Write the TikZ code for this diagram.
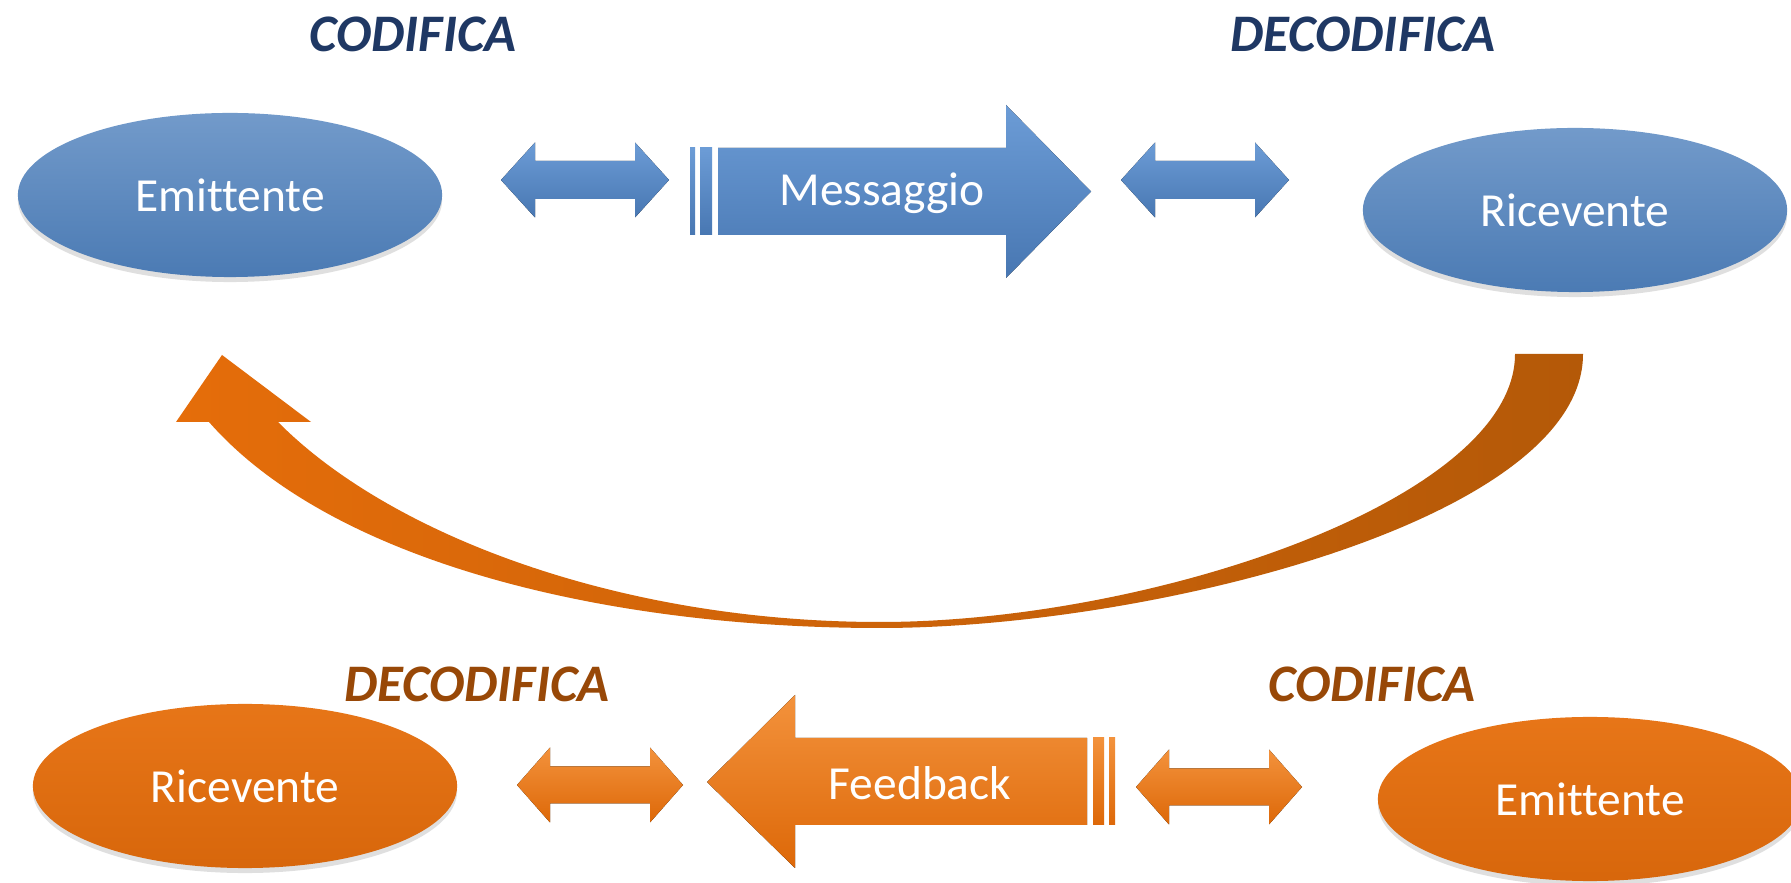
\documentclass[tikz,border=0pt]{standalone}
\usepackage{fontspec}
\setmainfont{Carlito}[Ligatures=NoCommon]
\usepackage{xcolor}
\usetikzlibrary{shapes.geometric,shadows}
\definecolor{bluetop}{HTML}{6C9CD6}
\definecolor{bluebot}{HTML}{4877B2}
\definecolor{blueell}{HTML}{4F81BD}
\definecolor{titleblue}{HTML}{1F3864}
\definecolor{orngtop}{HTML}{F3923C}
\definecolor{orngbot}{HTML}{DD6808}
\definecolor{orngell}{HTML}{E36C0C}
\definecolor{titlebrown}{HTML}{984807}
\definecolor{curveleft}{HTML}{E56D0A}
\definecolor{curveright}{HTML}{B45908}

\tikzset{
  bluefill/.style={top color=bluetop, bottom color=bluebot},
  orngfill/.style={top color=orngtop, bottom color=orngbot},
  oval/.style={ellipse, inner sep=0pt, minimum width=4.24cm, minimum height=1.64cm,
    text=white, font=\fontsize{13.5}{16}\selectfont,
    drop shadow={opacity=.25, shadow xshift=0pt, shadow yshift=-.05cm}},
  blueoval/.style={oval, top color=blueell!80!white, middle color=blueell, bottom color=blueell!95!black},
  orngoval/.style={oval, top color=orngell!75!orngtop, middle color=orngell, bottom color=orngell!95!black},
  lbl/.style={text=white, font=\fontsize{13.5}{16}\selectfont},
  title/.style={font=\fontsize{15}{18}\selectfont\bfseries\itshape}
}

\begin{document}
\begin{tikzpicture}[x=0.01cm, y=-0.01cm]
  \useasboundingbox (0,0) rectangle (1791,883);
  \fill[white] (0,0) rectangle (1791,883);

  % titles
  \node[title, text=titleblue] (codTop) at (413,34) {CODIFICA};
  \node[title, text=titleblue] (decTop) at (1363,34) {DECODIFICA};
  \node[title, text=titlebrown] (decBot) at (477,684) {DECODIFICA};
  \node[title, text=titlebrown] (codBot) at (1372,684) {CODIFICA};

  % top row
  \node[blueoval] (emitTop) at (230,195) {Emittente};
  \node[blueoval] (riceTop) at (1575,210) {Ricevente};
  \fill[bluefill, shift={(585,180)}] (-84,0) -- (-50,-37.5) -- (-50,-19) -- (50,-19) -- (50,-37.5)
    -- (84,0) -- (50,37.5) -- (50,19) -- (-50,19) -- (-50,37.5) -- cycle;
  \fill[bluefill, shift={(1205,180)}] (-84,0) -- (-50,-37.5) -- (-50,-19) -- (50,-19) -- (50,-37.5)
    -- (84,0) -- (50,37.5) -- (50,19) -- (-50,19) -- (-50,37.5) -- cycle;
  \fill[bluefill] (690,148) rectangle (695,235);
  \fill[bluefill] (700,148) rectangle (712,235);
  \fill[bluefill] (718,148) -- (1006,148) -- (1006,105) -- (1091,191.5) -- (1006,278)
    -- (1006,235) -- (718,235) -- cycle;
  \node[lbl] (msg) at (882,193) {Messaggio};

  % feedback curve
  \path[left color=curveleft, right color=curveright]
    (1583,354) .. controls (1583,520) and (1150,628) .. (880,628)
    .. controls (600,628) and (330,560) .. (209,422)
    -- (176,422) -- (222,355) -- (311,422) -- (278,422)
    .. controls (390,535) and (620,622) .. (880,622)
    .. controls (1150,622) and (1515,500) .. (1515,354) -- cycle;

  % bottom row
  \node[orngoval] (riceBot) at (245,786) {Ricevente};
  \node[orngoval] (emitBot) at (1590,799) {Emittente};
  \fill[orngfill, shift={(600,785)}] (-83,0) -- (-50,-37.5) -- (-50,-18.5) -- (50,-18.5) -- (50,-37.5)
    -- (83,0) -- (50,37.5) -- (50,18.5) -- (-50,18.5) -- (-50,37.5) -- cycle;
  \fill[orngfill, shift={(1219,787)}] (-83,0) -- (-50,-37.5) -- (-50,-18.5) -- (50,-18.5) -- (50,-37.5)
    -- (83,0) -- (50,37.5) -- (50,18.5) -- (-50,18.5) -- (-50,37.5) -- cycle;
  \fill[orngfill] (1109,738) rectangle (1115,825);
  \fill[orngfill] (1093,738) rectangle (1104,825);
  \fill[orngfill] (1087,738) -- (795,738) -- (795,695) -- (707,782) -- (795,868)
    -- (795,825) -- (1087,825) -- cycle;
  \node[lbl] (fb) at (920,783) {Feedback};

  \node[anchor=north, text=gray, font=\fontsize{7}{8}\selectfont] (pg) at (1721,877) {21};
\end{tikzpicture}
\end{document}
